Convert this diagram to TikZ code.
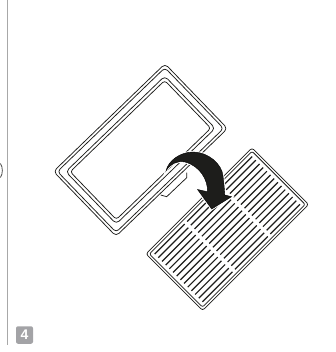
\documentclass[tikz,border=0pt]{standalone}
\usepackage{tikz}
\usepackage{fontspec}
\setsansfont{Liberation Sans}
\definecolor{inkdark}{HTML}{1D1D1B}
\definecolor{rulegray}{HTML}{A8A8A8}
\definecolor{badgegray}{HTML}{A3A3A6}

\begin{document}
\begin{tikzpicture}[
    x=1pt,
    y=-1pt,
    contour/.style={
        draw=inkdark,
        line width=0.75pt,
        line join=round
    },
    slat/.style={
        draw=inkdark,
        line width=1.2pt
    },
    sidebar/.style={
        draw=rulegray,
        line width=0.9pt
    },
    stepbadge/.style={
        fill=badgegray,
        rounded corners=2pt,
        minimum width=17pt,
        minimum height=17.5pt,
        inner sep=0pt,
        text=white,
        font=\sffamily\bfseries\fontsize{14}{14}\selectfont
    },
    turnarrow/.style={
        fill=inkdark,
        preaction={draw=white, line width=2.4pt}
    }
]

\useasboundingbox (0,0) rectangle (335,352);

% =====================================================
% Page rule and the cut-off mark beside it
% =====================================================

\coordinate (RuleTop) at (7.5,0);
\coordinate (RuleEnd) at (7.5,345);
\draw[sidebar] (RuleTop) -- (RuleEnd);

\draw[draw=inkdark!80, line width=0.8pt]
(0.4,163.5) .. controls (3,167) and (3,174) .. (0.4,177.5);

\node[stepbadge] (Badge) at (24.5,335) {4};

% =====================================================
% Frame
% =====================================================

\begin{scope}[shift={(140.5,150)}, rotate=44]
  \draw[contour, rounded corners=4pt] (-77.5,-45) rectangle (77.5,45);
  \draw[contour, rounded corners=3.5pt] (-74.7,-42.2) rectangle (74.7,42.2);
  \draw[contour, rounded corners=4pt] (-68.8,-36.3) rectangle (68.8,36.3);
  \draw[contour, rounded corners=3pt] (-65.7,-33.2) rectangle (65.7,33.2);
\end{scope}

% Tab on the long side of the frame
\draw[contour] (186.7,172.7) -- (186.7,177.7) -- (166.7,196.7) -- (160.7,195);

% =====================================================
% Filter
% =====================================================

\begin{scope}[shift={(227.3,229.2)}, rotate=45]
  \draw[contour, rounded corners=2.5pt] (-75,-40) rectangle (75,40);
  \draw[contour, rounded corners=2pt] (-72.6,-37.6) rectangle (72.6,37.6);
  \foreach \row in {0,...,13} {
    \pgfmathsetmacro{\rowy}{-33.8+5.2*\row}
    \draw[slat] (-69,\rowy) -- (-26.5,\rowy);
    \draw[slat] (-23,\rowy) -- (23.5,\rowy);
    \draw[slat] (27,\rowy) -- (69,\rowy);
  }
\end{scope}

% =====================================================
% Turn-over arrow
% =====================================================

\draw[turnarrow]
(166,171) .. controls (168,161) and (180,152) .. (193,152)
.. controls (208,152) and (222,164) .. (223,176)
.. controls (224,184) and (224.5,190) .. (224.8,195)
-- (231.5,196.7) -- (211.7,209) -- (197.5,189.5) -- (207.5,191.7)
.. controls (208,180) and (200,166) .. (185,162)
.. controls (177,160.5) and (170,164) .. (166,171) -- cycle;

\end{tikzpicture}
\end{document}
